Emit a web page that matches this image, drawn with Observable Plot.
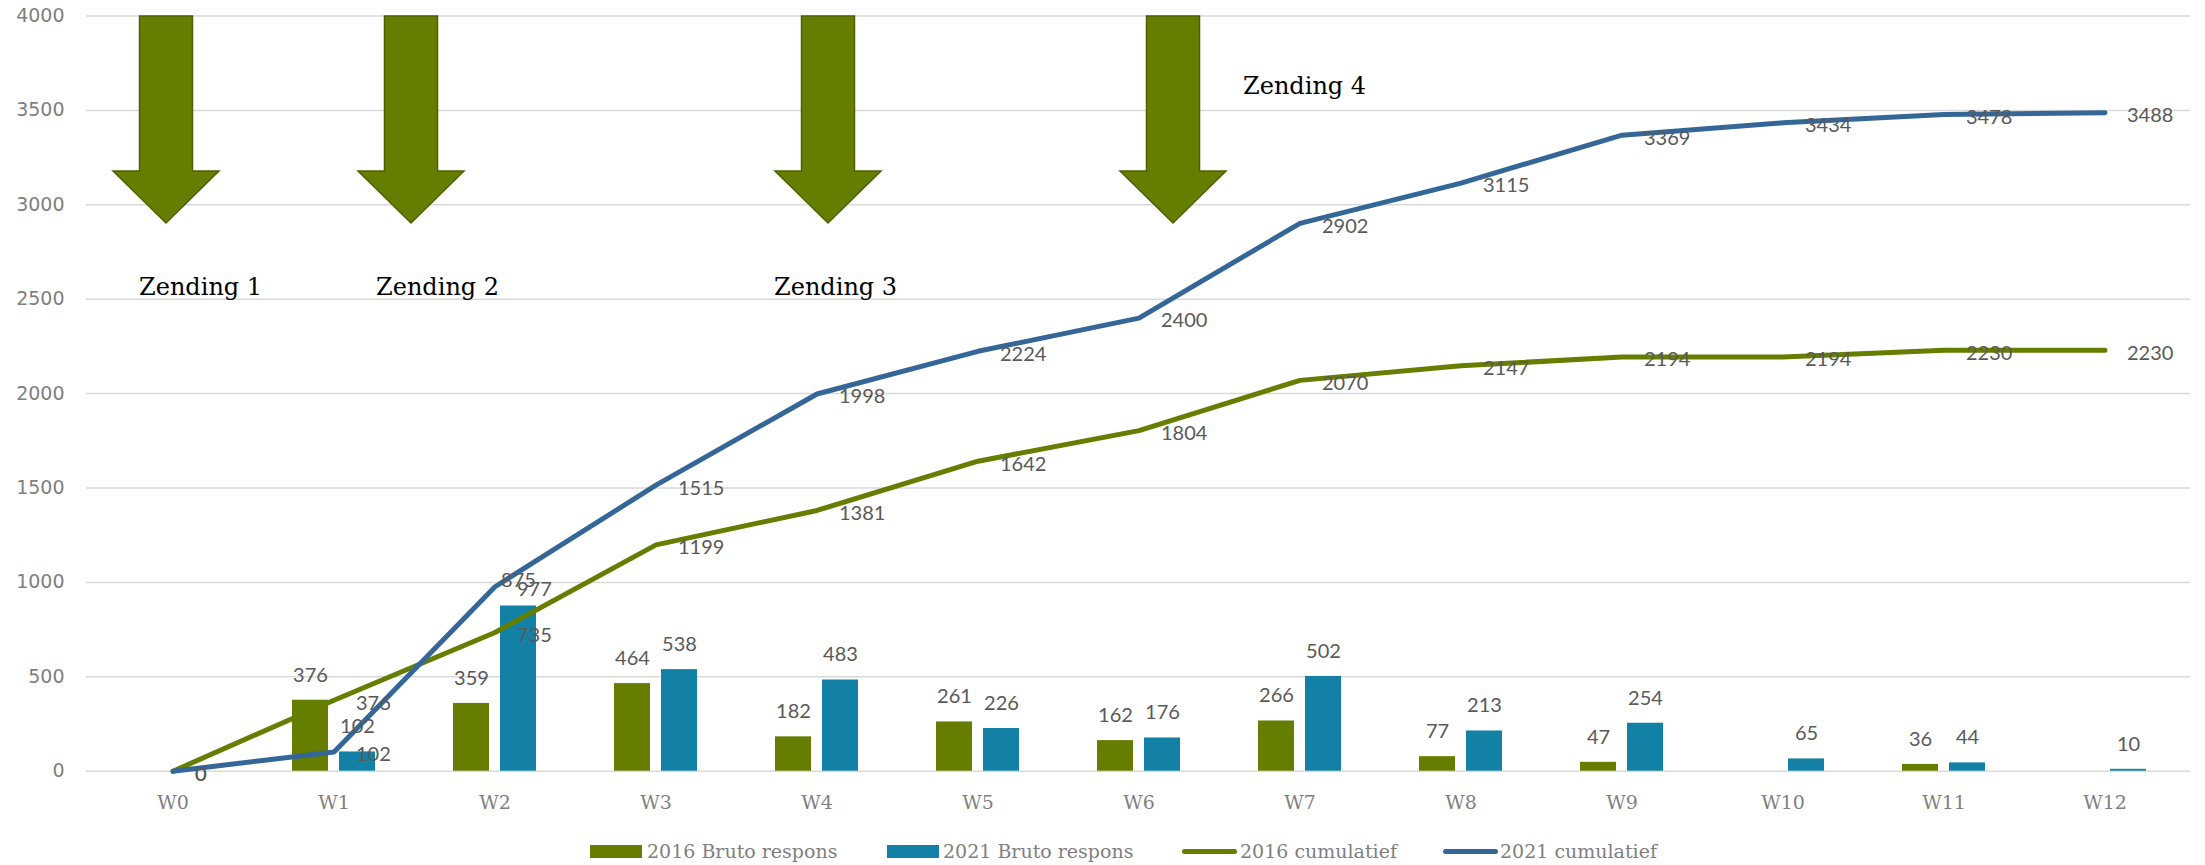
<!DOCTYPE html>
<html>
<head>
<meta charset="utf-8">
<script src="https://cdn.jsdelivr.net/npm/d3@7"></script>
<script src="https://cdn.jsdelivr.net/npm/@observablehq/plot@0.6"></script>
<style>
  html, body { margin: 0; padding: 0; background: #fff; overflow: hidden; }
  #wrap { width: 2205px; height: 865px; position: relative; }
  #chart svg { display: block; }
  #chart svg [aria-label="y-axis tick label"] { fill: #7f7f7f; font-size: 19px; font-family: "DejaVu Sans", sans-serif; }
  #chart svg [aria-label="x-axis tick label"] { fill: #7f7f7f; font-size: 19px; font-family: "DejaVu Serif", serif; }
  #legend { position: relative; width: 2205px; height: 45px; font-family: "DejaVu Serif", serif; font-size: 19px; color: #7f7f7f; }
  #legend .sw { position: absolute; }
  #legend .lb { position: absolute; top: 20px; line-height: 22px; white-space: nowrap; }
</style>
</head>
<body>
<div id="wrap">
  <div id="chart"></div>
  <div id="legend"></div>
</div>
<script>
// ---- data ----
const weeks = ["W0","W1","W2","W3","W4","W5","W6","W7","W8","W9","W10","W11","W12"];
const bruto2016 = [null, 376, 359, 464, 182, 261, 162, 266, 77, 47, null, 36, null];
const bruto2021 = [null, 102, 875, 538, 483, 226, 176, 502, 213, 254, 65, 44, 10];
const cum2016 = [0, 376, 735, 1199, 1381, 1642, 1804, 2070, 2147, 2194, 2194, 2230, 2230];
const cum2021 = [0, 102, 977, 1515, 1998, 2224, 2400, 2902, 3115, 3369, 3434, 3478, 3488];
const yTicks = [0, 500, 1000, 1500, 2000, 2500, 3000, 3500, 4000];
const seriesNames = ["2016 Bruto respons", "2021 Bruto respons", "2016 cumulatief", "2021 cumulatief"];
const zendingLabels = ["Zending 1", "Zending 2", "Zending 3", "Zending 4"];
const zendingWeeks = ["W0", "W1", "W4", "W6"];

// ---- styles ----
const green = "#657E00";
const blueBar = "#1380A6";
const blueLine = "#346798";
const labelColor = "#595959";
const labelFont = "Lato, 'Open Sans', sans-serif";
const fmt = v => (v == null ? "" : String(v));

const rows = weeks.map((w, i) => ({week: w, b16: bruto2016[i], b21: bruto2021[i], c16: cum2016[i], c21: cum2021[i]}));

// block-arrow symbol (drawn downward from its anchor)
const arrowSymbol = {
  draw(ctx) {
    const sw = 26.5, hw = 53, hb = 155, tip = 207;
    ctx.moveTo(-sw, 0);
    ctx.lineTo(sw, 0);
    ctx.lineTo(sw, hb);
    ctx.lineTo(hw, hb);
    ctx.lineTo(0, tip);
    ctx.lineTo(-hw, hb);
    ctx.lineTo(-sw, hb);
    ctx.closePath();
  }
};
// arrow & label placement (annotation offsets in px relative to their week)
const arrowDx = [-7, 77, 11, 34];
const labelDx = [-34, 42, -43, 104];
const labelY = [2565, 2565, 2565, 3630];

const annotationMarks = [];
zendingWeeks.forEach((w, i) => {
  annotationMarks.push(Plot.dot([{week: w, v: 4000}], {
    x: "week", y: "v", symbol: arrowSymbol, fill: green, stroke: "#4D6100", strokeWidth: 1.5, dx: arrowDx[i]
  }));
  annotationMarks.push(Plot.text([{week: w, v: labelY[i], t: zendingLabels[i]}], {
    x: "week", y: "v", text: "t", dx: labelDx[i], textAnchor: "start", lineAnchor: "middle",
    fontFamily: "'DejaVu Serif', serif", fontSize: 24, fill: "#000"
  }));
});

const chart = Plot.plot({
  width: 2205,
  height: 820,
  marginTop: 15.5,
  marginBottom: 49.3,
  marginLeft: 86,
  marginRight: 15,
  x: {type: "band", domain: weeks, padding: 0, label: null},
  y: {domain: [0, 4000], label: null},
  style: {background: "white", overflow: "visible"},
  marks: [
    Plot.ruleY(yTicks, {stroke: "#d9d9d9", strokeWidth: 1.5}),
    Plot.axisY(yTicks, {tickSize: 0, tickPadding: 22, tickFormat: fmt, fontSize: 19, label: null}),
    Plot.axisX({tickSize: 0, tickPadding: 24, fontSize: 19, label: null}),
    Plot.barY(rows, {x: "week", y: "b16", fill: green, insetLeft: 39, insetRight: 86}),
    Plot.barY(rows, {x: "week", y: "b21", fill: blueBar, insetLeft: 86, insetRight: 39}),
    Plot.line(rows, {x: "week", y: "c16", stroke: green, strokeWidth: 5, strokeLinecap: "round", strokeLinejoin: "round"}),
    Plot.line(rows, {x: "week", y: "c21", stroke: blueLine, strokeWidth: 5, strokeLinecap: "round", strokeLinejoin: "round"}),
    Plot.text(rows, {x: "week", y: "b16", text: d => fmt(d.b16), dx: -23.5, dy: -25, lineAnchor: "middle", fontFamily: labelFont, fontSize: 20, fill: labelColor}),
    Plot.text(rows, {x: "week", y: "b21", text: d => fmt(d.b21), dx: 23.5, dy: -25, lineAnchor: "middle", fontFamily: labelFont, fontSize: 20, fill: labelColor}),
    Plot.text(rows, {x: "week", y: "c16", text: d => fmt(d.c16), dx: 22, dy: 3, textAnchor: "start", lineAnchor: "middle", fontFamily: labelFont, fontSize: 20, fill: labelColor}),
    Plot.text(rows, {x: "week", y: "c21", text: d => fmt(d.c21), dx: 22, dy: 3, textAnchor: "start", lineAnchor: "middle", fontFamily: labelFont, fontSize: 20, fill: labelColor}),
    ...annotationMarks
  ]
});
document.getElementById("chart").appendChild(chart);

// ---- legend ----
const legend = document.getElementById("legend");
const legendColors = [green, blueBar, green, blueLine];
const legendKinds = ["rect", "rect", "line", "line"];
const swatchLeft = [590, 887, 1182, 1443];
const textLeft = [647, 943, 1240, 1500];
seriesNames.forEach((name, i) => {
  const sw = document.createElement("div");
  sw.className = "sw";
  sw.style.left = swatchLeft[i] + "px";
  sw.style.width = (legendKinds[i] === "rect" ? 52 : 55) + "px";
  if (legendKinds[i] === "rect") {
    sw.style.top = "25px"; sw.style.height = "13px";
  } else {
    sw.style.top = "29px"; sw.style.height = "5px"; sw.style.borderRadius = "3px";
  }
  sw.style.background = legendColors[i];
  legend.appendChild(sw);
  const lb = document.createElement("div");
  lb.className = "lb";
  lb.style.left = textLeft[i] + "px";
  lb.textContent = name;
  legend.appendChild(lb);
});
</script>
</body>
</html>
